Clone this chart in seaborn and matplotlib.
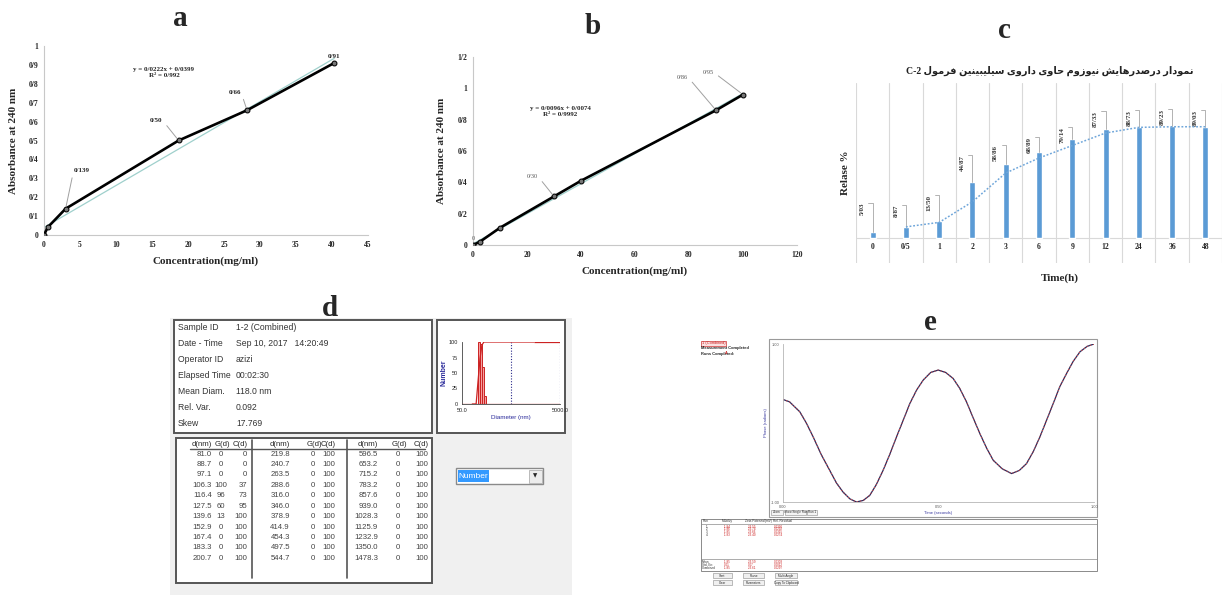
import numpy as np
import pandas as pd
import seaborn as sns
import matplotlib.pyplot as plt
from matplotlib.patches import Rectangle

W, H = 1223, 595

# ---------------- panel a : calibration curve ----------------
conc_a = [0, 0.5, 3.0, 18.7, 28.2, 40.3]
absorb_a = [0, 0.04, 0.139, 0.50, 0.66, 0.91]
point_labels_a = ['', '', '0/139', '0/50', '0/66', '0/91']
slope_a, icpt_a = 0.0222, 0.0399
eq_text_a = ['y = 0/0222x + 0/0399', 'R\u00b2 = 0/992']
xticks_a = [0, 5, 10, 15, 20, 25, 30, 35, 40, 45]
yticks_a = [0, 0.1, 0.2, 0.3, 0.4, 0.5, 0.6, 0.7, 0.8, 0.9, 1.0]
ytick_labels_a = ['0', '0/1', '0/2', '0/3', '0/4', '0/5', '0/6', '0/7', '0/8', '0/9', '1']

# ---------------- panel b : calibration curve ----------------
conc_b = [0, 2.5, 10, 30, 40, 90, 100]
absorb_b = [0, 0.02, 0.11, 0.31, 0.41, 0.86, 0.96]
point_labels_b = ['0', '', '', '0/30', '', '0/86', '0/95']
slope_b, icpt_b = 0.0096, 0.0074
eq_text_b = ['y = 0/0096x + 0/0074', 'R\u00b2 = 0/9992']
xticks_b = [0, 20, 40, 60, 80, 100, 120]
yticks_b = [0, 0.2, 0.4, 0.6, 0.8, 1.0, 1.2]
ytick_labels_b = ['0', '0/2', '0/4', '0/6', '0/8', '1', '1/2']

# ---------------- panel c : release profile ----------------
time_labels = ['0', '0/5', '1', '2', '3', '6', '9', '12', '24', '36', '48']
release = [5.03, 8.87, 13.50, 44.87, 58.86, 68.89, 79.14, 87.33, 88.73, 89.23, 89.03]
release_labels = ['5/03', '8/87', '13/50', '44/87', '58/86', '68/89',
                  '79/14', '87/33', '88/73', '89/23', '89/03']
release_trend = [np.nan, 8.9, 12.5, 29, 52, 64, 74, 84, 88.5, 89, 89]
title_c_fa = 'نمودار درصدرهایش نیوزوم حاوی داروی سیلیبینین فرمول'
title_c_code = 'C-2'

# ---------------- panel d : size distribution report ----------------
info_keys = ['Sample ID', 'Date - Time', 'Operator ID', 'Elapsed Time',
             'Mean Diam.', 'Rel. Var.', 'Skew']
info_vals = ['1-2 (Combined)', 'Sep 10, 2017   14:20:49', 'azizi', '00:02:30',
             '118.0 nm', '0.092', '17.769']
d_nm = [81.0, 88.7, 97.1, 106.3, 116.4, 127.5, 139.6, 152.9, 167.4, 183.3, 200.7,
        219.8, 240.7, 263.5, 288.6, 316.0, 346.0, 378.9, 414.9, 454.3, 497.5, 544.7,
        596.5, 653.2, 715.2, 783.2, 857.6, 939.0, 1028.3, 1125.9, 1232.9, 1350.0, 1478.3]
g_d = [0, 0, 0, 100, 96, 60, 13, 0, 0, 0, 0] + [0] * 22
c_d = [0, 0, 0, 37, 73, 95, 100, 100, 100, 100, 100] + [100] * 22

# ---------------- panel e : zeta potential phase plot ----------------
phase_t = [0, 0.021, 0.054, 0.075, 0.097, 0.123, 0.150, 0.172, 0.193, 0.215, 0.236,
           0.258, 0.279, 0.300, 0.322, 0.343, 0.365, 0.387, 0.408, 0.430, 0.451,
           0.475, 0.499, 0.523, 0.547, 0.568, 0.590, 0.612, 0.633, 0.655, 0.676,
           0.705, 0.735, 0.760, 0.783, 0.805, 0.826, 0.848, 0.869, 0.890, 0.912,
           0.933, 0.955, 0.978, 1.0]
phase_val = [0.649, 0.634, 0.571, 0.500, 0.412, 0.300, 0.201, 0.120, 0.063, 0.020, 0.0,
             0.010, 0.042, 0.110, 0.201, 0.300, 0.412, 0.520, 0.624, 0.710, 0.772,
             0.820, 0.835, 0.820, 0.782, 0.720, 0.634, 0.530, 0.433, 0.340, 0.264,
             0.210, 0.180, 0.200, 0.243, 0.320, 0.412, 0.520, 0.624, 0.730, 0.814,
             0.890, 0.951, 0.985, 1.0]
runs = ['1', '2', '3', '4']
mobility = ['-1.84', '-1.86', '-1.85', '-1.83']
zeta = ['-23.55', '-23.74', '-23.66', '-23.40']
residual = ['0.0330', '0.0292', '0.0315', '0.0274']
summary_names = ['Mean', 'Std. Err.', 'Combined']
summary_mob = ['-1.85', '0.01', '-1.85']
summary_zeta = ['-23.59', '0.07', '-23.61']
summary_res = ['0.0303', '0.0012', '0.0297']

# Persian letter forms: isolated, final, initial, medial
FORMS = {
    '\u0627': ('\uFE8D', '\uFE8E', None, None),
    '\u0628': ('\uFE8F', '\uFE90', '\uFE91', '\uFE92'),
    '\u062D': ('\uFEA1', '\uFEA2', '\uFEA3', '\uFEA4'),
    '\u062F': ('\uFEA9', '\uFEAA', None, None),
    '\u0631': ('\uFEAD', '\uFEAE', None, None),
    '\u0632': ('\uFEAF', '\uFEB0', None, None),
    '\u0633': ('\uFEB1', '\uFEB2', '\uFEB3', '\uFEB4'),
    '\u0634': ('\uFEB5', '\uFEB6', '\uFEB7', '\uFEB8'),
    '\u0635': ('\uFEB9', '\uFEBA', '\uFEBB', '\uFEBC'),
    '\u0641': ('\uFED1', '\uFED2', '\uFED3', '\uFED4'),
    '\u0644': ('\uFEDD', '\uFEDE', '\uFEDF', '\uFEE0'),
    '\u0645': ('\uFEE1', '\uFEE2', '\uFEE3', '\uFEE4'),
    '\u0646': ('\uFEE5', '\uFEE6', '\uFEE7', '\uFEE8'),
    '\u0647': ('\uFEE9', '\uFEEA', '\uFEEB', '\uFEEC'),
    '\u0648': ('\uFEED', '\uFEEE', None, None),
    '\u06CC': ('\uFBFC', '\uFBFD', '\uFBFE', '\uFBFF'),
}


def shape_rtl(text):
    """Join Persian letters and reverse them for left-to-right drawing."""
    text = text.replace('\u064A', '\u06CC').replace('\u0649', '\u06CC')
    out = []
    for i, ch in enumerate(text):
        if ch not in FORMS:
            out.append(ch)
            continue
        prev = text[i - 1] if i > 0 else ''
        nxt = text[i + 1] if i + 1 < len(text) else ''
        join_prev = prev in FORMS and FORMS[prev][2] is not None
        join_next = nxt in FORMS and FORMS[ch][2] is not None
        iso, fin, ini, med = FORMS[ch]
        if join_prev and join_next:
            out.append(med)
        elif join_prev:
            out.append(fin)
        elif join_next:
            out.append(ini)
        else:
            out.append(iso)
    return ''.join(reversed(out))


sns.set_theme(style='white')
plt.rcParams['font.family'] = ['Liberation Serif', 'DejaVu Sans']
plt.rcParams['axes.unicode_minus'] = False

fig = plt.figure(figsize=(W / 100, H / 100), dpi=100)
fig.patch.set_facecolor('white')

# background axes in pixel units for the screenshot parts
bg = fig.add_axes([0, 0, 1, 1])
bg.set_xlim(0, W)
bg.set_ylim(H, 0)
bg.axis('off')


def px_axes(x0, y0, x1, y1):
    return fig.add_axes([x0 / W, 1 - y1 / H, (x1 - x0) / W, (y1 - y0) / H])


SANS = ['Liberation Sans', 'DejaVu Sans']
GRID = '#d9d9d9'

# panel letters
for letter, x, y in [('a', 180, 18), ('b', 593, 27), ('c', 1004, 30),
                     ('d', 330, 308), ('e', 930, 322)]:
    bg.text(x, y, letter, fontsize=21, fontweight='bold', ha='center', va='center')


def calib_axes(ax, x, y, labels, slope, icpt, eq_text, eq_xy, xticks, yticks, ytl,
               label_layout, label_style):
    sns.lineplot(x=x, y=y, ax=ax, color='black', lw=1.9, marker='o', markersize=3.5,
                 markeredgecolor='black', markerfacecolor='#777777', zorder=3)
    tx = np.array([x[0], x[-1]])
    ax.plot(tx, slope * tx + icpt, color='#9fd0cc', lw=0.9, zorder=2)
    ax.set_xlim(xticks[0], xticks[-1])
    ax.set_ylim(yticks[0], yticks[-1])
    ax.set_xticks(xticks)
    ax.set_xticklabels([str(v) for v in xticks], fontsize=5.5, fontweight='bold')
    ax.set_yticks(yticks)
    ax.set_yticklabels(ytl, fontsize=5.5, fontweight='bold')
    ax.tick_params(length=0, pad=4)
    for s in ['top', 'right']:
        ax.spines[s].set_visible(False)
    for s in ['left', 'bottom']:
        ax.spines[s].set_color('#c8c8c8')
        ax.spines[s].set_linewidth(0.8)
    ax.set_xlabel('Concentration(mg/ml)', fontsize=8, fontweight='bold', labelpad=6)
    ax.set_ylabel('Absorbance at 240 nm', fontsize=8, fontweight='bold', labelpad=8)
    ax.set_facecolor('white')
    ax.text(eq_xy[0], eq_xy[1], '\n'.join(eq_text), transform=ax.transAxes, fontsize=5,
            fontweight='bold', ha='center', va='center', linespacing=1.1)
    for i, (dx, dy, ha) in label_layout.items():
        rel = {'left': (0, 0.5), 'right': (1, 0.5), 'center': (0.5, 0)}[ha]
        arrow = None if ha == 'center' else dict(arrowstyle='-', color='#a0a0a0', lw=0.7,
                                                 shrinkA=1, shrinkB=2, relpos=rel)
        ax.annotate(labels[i], xy=(x[i], y[i]), xytext=(dx, dy),
                    textcoords='offset pixels', ha=ha, va='center' if ha != 'center' else 'bottom',
                    arrowprops=arrow, **label_style)


# ---------------- panel a ----------------
ax_a = px_axes(44, 46, 368, 235)
calib_axes(ax_a, conc_a, absorb_a, point_labels_a, slope_a, icpt_a, eq_text_a, (0.37, 0.86),
           xticks_a, yticks_a, ytick_labels_a,
           {2: (8, 38, 'left'), 3: (-16, 20, 'right'), 4: (-6, 18, 'right'), 5: (0, 4, 'center')},
           dict(fontsize=5, fontweight='bold', color='#222222'))

# ---------------- panel b ----------------
ax_b = px_axes(473, 57, 797, 245)
calib_axes(ax_b, conc_b, absorb_b, point_labels_b, slope_b, icpt_b, eq_text_b, (0.27, 0.71),
           xticks_b, yticks_b, ytick_labels_b,
           {0: (0, 4, 'center'), 3: (-16, 20, 'right'), 5: (-28, 33, 'right'), 6: (-29, 22, 'right')},
           dict(fontsize=4.5, color='#555555'))

# ---------------- panel c ----------------
ax_c = px_axes(856, 83, 1222, 263)
sns.barplot(x=time_labels, y=release, ax=ax_c, color='#5B9BD5', saturation=1,
            width=0.18, zorder=3)
sns.lineplot(x=np.arange(len(time_labels)), y=release_trend, ax=ax_c, color='#6fa6da',
             lw=1.1, linestyle=(0, (1.2, 1.2)), zorder=4)
ax_c.set_xlim(-0.5, len(time_labels) - 0.5)
ax_c.set_ylim(-20, 124)
ax_c.set_yticks([])
ax_c.set_xticks([])
for s in ax_c.spines.values():
    s.set_visible(False)
for k in range(len(time_labels) + 1):
    ax_c.axvline(k - 0.5, color=GRID, lw=0.8, zorder=1)
ax_c.axhline(0, color=GRID, lw=0.8, zorder=1)
for i, lab in enumerate(time_labels):
    ax_c.text(i, -7, lab, ha='center', va='center', fontsize=5.5, fontweight='bold')
label_gap_c = [29, 22, 26, 27, 19, 15, 12, 18, 17, 17, 17]
for i, (v, lab) in enumerate(zip(release, release_labels)):
    ax_c.annotate(lab, xy=(i, v), xytext=(-10, label_gap_c[i]), textcoords='offset pixels',
                  rotation=90, ha='center', va='top', fontsize=5, fontweight='bold',
                  color='#333333',
                  arrowprops=dict(arrowstyle='-', color='#a6a6a6', lw=0.6, relpos=(1, 1),
                                  shrinkA=0, shrinkB=0,
                                  connectionstyle='angle,angleA=0,angleB=90,rad=0'))
ax_c.set_ylabel('Relase %', fontsize=8, fontweight='bold', labelpad=4)
bg.text(1060, 278, 'Time(h)', fontsize=8, fontweight='bold', ha='center', va='center')
bg.text(1050, 71, title_c_code + ' ' + shape_rtl(title_c_fa), fontsize=7,
        fontweight='bold', ha='center', va='center', color='#222222')

# ---------------- panel d ----------------
bg.add_patch(Rectangle((170, 318), 402, 277, facecolor='#f0f0f0', edgecolor='none', zorder=0))
for (x0, y0, x1, y1) in [(174, 320, 432, 433), (437, 320, 565, 433), (176, 438, 432, 583)]:
    bg.add_patch(Rectangle((x0, y0), x1 - x0, y1 - y0, facecolor='white',
                           edgecolor='#555555', lw=1.4, zorder=1))
for k, (key, val) in enumerate(zip(info_keys, info_vals)):
    yy = 328 + 16 * k
    bg.text(178, yy, key, fontsize=6.2, family=SANS, color='#333333', va='center', zorder=2)
    bg.text(236, yy, val, fontsize=6.2, family=SANS, color='#333333', va='center', zorder=2)

col_x = [(212, 221, 247), (290, 313, 335), (378, 398, 428)]
for gi, (xd, xg, xc) in enumerate(col_x):
    bg.text(xd, 444, 'd(nm)', fontsize=5.6, family=SANS, ha='right', va='center', zorder=2)
    bg.text(xg + 1, 444, 'G(d)', fontsize=5.6, family=SANS, ha='center', va='center', zorder=2)
    bg.text(xc + 1, 444, 'C(d)', fontsize=5.6, family=SANS, ha='right', va='center', zorder=2)
    for r in range(11):
        j = gi * 11 + r
        yy = 454 + 10.43 * r
        bg.text(xd, yy, f'{d_nm[j]:.1f}', fontsize=5.6, family=SANS, color='#444444',
                ha='right', va='center', zorder=2)
        bg.text(xg, yy, str(g_d[j]), fontsize=5.6, family=SANS, color='#444444',
                ha='center', va='center', zorder=2)
        bg.text(xc, yy, str(c_d[j]), fontsize=5.6, family=SANS, color='#444444',
                ha='right', va='center', zorder=2)
bg.plot([190, 425], [449, 449], color='#555555', lw=1, zorder=2)
for xs in [252, 347]:
    bg.plot([xs, xs], [440, 578], color='#555555', lw=1.2, zorder=2)

# dropdown
bg.add_patch(Rectangle((456, 468), 87, 16, facecolor='white', edgecolor='#8a8a8a', lw=1, zorder=1))
bg.add_patch(Rectangle((457.5, 470), 31, 12, facecolor='#3399ff', edgecolor='none', zorder=2))
bg.text(458.5, 476, 'Number', fontsize=6, family=SANS, color='white', va='center', zorder=3)
bg.add_patch(Rectangle((529, 469.5), 12.5, 13, facecolor='#ececec', edgecolor='#b0b0b0', lw=0.6, zorder=2))
bg.text(535.3, 476, '\u25bc', fontsize=4, family=['DejaVu Sans'], ha='center', va='center', zorder=3)

# distribution mini plot
ax_m = px_axes(462, 342, 560, 404)
ax_m.set_facecolor('none')
ax_m.set_xscale('log')
ax_m.bar(d_nm[:-1], g_d[:-1], width=np.diff(d_nm), align='edge', color='#f4a0a0',
         edgecolor='#cc2222', lw=0.7, zorder=2)
sns.lineplot(x=d_nm, y=c_d, ax=ax_m, color='#cc2222', lw=0.9, zorder=3)
ax_m.hlines(100, d_nm[-1], 5000, color='#cc2222', lw=0.9, zorder=3)
ax_m.axhline(0, color='#cc2222', lw=0.9, zorder=3)
ax_m.axvline(500, color='#2a2a8a', lw=0.8, ls=(0, (1, 1.5)), zorder=1)
ax_m.axvline(5000, color='#2a2a8a', lw=0.8, ls=(0, (1, 1.5)), zorder=1)
ax_m.set_xlim(50, 5000)
ax_m.set_ylim(0, 100)
ax_m.set_xticks([50, 5000])
ax_m.set_xticklabels(['50.0', '5000.0'], fontsize=4, family=SANS)
ax_m.minorticks_off()
ax_m.set_yticks([0, 25, 50, 75, 100])
ax_m.set_yticklabels(['0', '25', '50', '75', '100'], fontsize=4, family=SANS)
ax_m.tick_params(length=2, width=0.5, pad=1)
for s in ['top', 'right']:
    ax_m.spines[s].set_visible(False)
for s in ['left', 'bottom']:
    ax_m.spines[s].set_color('#444444')
    ax_m.spines[s].set_linewidth(0.6)
ax_m.set_ylabel('Number', fontsize=5, family=SANS, color='#2a2a9a', fontweight='bold', labelpad=1)
ax_m.set_xlabel('Diameter (nm)', fontsize=4.5, family=SANS, color='#2a2a9a', labelpad=1)

# ---------------- panel e ----------------
bg.add_patch(Rectangle((701, 341), 25, 4.5, facecolor='#fbe0e0', edgecolor='#cc3333', lw=0.5))
bg.text(702, 343.3, '1 (Combined)', fontsize=2.8, family=SANS, color='#cc2222', va='center')
bg.text(701, 348.5, 'Measurement Completed', fontsize=2.9, family=SANS, fontweight='bold', va='center')
bg.text(701, 353.5, 'Runs Completed:', fontsize=2.9, family=SANS, fontweight='bold', va='center')
bg.text(725, 353.5, '4', fontsize=2.9, family=SANS, color='#cc2222', fontweight='bold', va='center')
bg.add_patch(Rectangle((769, 339), 328, 178, facecolor='white', edgecolor='#9a9a9a', lw=0.8))
ax_e = px_axes(783, 344, 1094, 502)
sns.lineplot(x=phase_t, y=phase_val, ax=ax_e, color='#2b2b5c', lw=0.9)
ax_e.plot(phase_t, phase_val, color='#d04a4a', lw=0.8, ls=(0, (1, 2)))
ax_e.set_xlim(0, 1)
ax_e.set_ylim(0, 1)
ax_e.set_xticks([0, 0.5, 1])
ax_e.set_xticklabels(['0.00', '0.50', '1.00'], fontsize=2.8, family=SANS, color='#555555')
ax_e.set_yticks([0, 1])
ax_e.set_yticklabels(['-1.00', '1.00'], fontsize=2.8, family=SANS, color='#555555')
ax_e.tick_params(length=1.5, width=0.4, pad=1)
for s in ['top', 'right']:
    ax_e.spines[s].set_visible(False)
for s in ['left', 'bottom']:
    ax_e.spines[s].set_color('#b5b5b5')
    ax_e.spines[s].set_linewidth(0.6)
ax_e.set_ylabel('Phase (radians)', fontsize=3, family=SANS, color='#3a3aa0', labelpad=2)
ax_e.set_xlabel('Time (seconds)', fontsize=3, family=SANS, color='#3a3aa0', labelpad=1)

for (x0, w, lab) in [(771, 12, 'Zoom'), (785, 21, 'Show Single Run'), (807, 10, 'Run 1')]:
    bg.add_patch(Rectangle((x0, 509.5), w, 5.5, facecolor='#f4f4f4', edgecolor='#8a8a8a', lw=0.4))
    bg.text(x0 + w / 2, 512.3, lab, fontsize=2.2, family=SANS, ha='center', va='center')

bg.add_patch(Rectangle((701, 519), 396, 52, facecolor='white', edgecolor='#8a8a8a', lw=0.7))
bg.plot([701, 1097], [523.5, 523.5], color='#8a8a8a', lw=0.5)
bg.plot([701, 1097], [559, 559], color='#8a8a8a', lw=0.5)
hdr_x = [703, 722, 745, 773]
for hx, hl in zip(hdr_x, ['Run', 'Mobility', 'Zeta Potential(mV)', 'Rel. Residual']):
    bg.text(hx, 521.3, hl, fontsize=2.3, family=SANS, color='#333333', va='center')
for r in range(len(runs)):
    yy = 526.5 + 2.7 * r
    bg.text(706, yy, runs[r], fontsize=2.2, family=SANS, color='#333333', va='center')
    bg.text(724, yy, mobility[r], fontsize=2.2, family=SANS, color='#cc2222', va='center')
    bg.text(748, yy, zeta[r], fontsize=2.2, family=SANS, color='#cc2222', va='center')
    bg.text(774, yy, residual[r], fontsize=2.2, family=SANS, color='#cc2222', va='center')
for r in range(len(summary_names)):
    yy = 562 + 2.8 * r
    bg.text(702, yy, summary_names[r], fontsize=2.2, family=SANS, color='#333333', va='center')
    bg.text(724, yy, summary_mob[r], fontsize=2.2, family=SANS, color='#cc2222', va='center')
    bg.text(748, yy, summary_zeta[r], fontsize=2.2, family=SANS, color='#cc2222', va='center')
    bg.text(774, yy, summary_res[r], fontsize=2.2, family=SANS, color='#cc2222', va='center')
for (x0, y0, w, lab) in [(713, 573, 19, 'Start'), (743, 573, 21, 'Pause'), (775, 573, 22, 'Multi Angle'),
                         (713, 580, 19, 'Clear'), (743, 580, 21, 'Parameters'),
                         (775, 580, 22, 'Copy To Clipboard')]:
    bg.add_patch(Rectangle((x0, y0), w, 5, facecolor='#f0f0f0', edgecolor='#8a8a8a', lw=0.4))
    bg.text(x0 + w / 2, y0 + 2.6, lab, fontsize=2.2, family=SANS, ha='center', va='center')

fig.savefig('out.png', dpi=100, facecolor='white')
